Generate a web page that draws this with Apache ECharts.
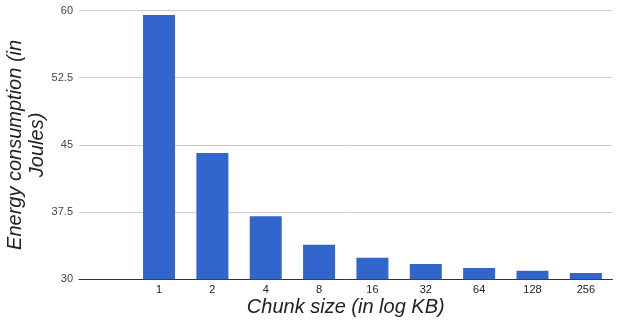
<!DOCTYPE html>
<html>
<head>
<meta charset="utf-8">
<script src="https://cdn.jsdelivr.net/npm/echarts@6/dist/echarts.min.js"></script>
<style>html,body{margin:0;padding:0;background:#fff}#c{width:619px;height:320px}</style>
</head>
<body>
<div id="c"></div>
<script>
const categories = ['', '1', '2', '4', '8', '16', '32', '64', '128', '256'];
const energy = [null, 59.5, 44.1, 37.05, 33.85, 32.4, 31.7, 31.25, 30.95, 30.7];
const yMin = 30, yMax = 60, yStep = 7.5;

const chart = echarts.init(document.getElementById('c'), null, {renderer: 'canvas'});
chart.setOption({
  animation: false,
  backgroundColor: '#ffffff',
  grid: {left: 79, right: 6.5, top: 10.5, bottom: 40.7, containLabel: false, outerBoundsMode: 'none'},
  xAxis: {
    type: 'category',
    data: categories,
    boundaryGap: true,
    axisTick: {show: false},
    axisLine: {lineStyle: {color: '#333333', width: 1}},
    axisLabel: {color: '#222222', fontSize: 11, fontFamily: 'Liberation Sans, Arial', margin: 5},
    name: 'Chunk size (in log KB)',
    nameLocation: 'middle',
    nameGap: 18,
    nameMoveOverlap: false,
    nameTextStyle: {fontSize: 20, fontStyle: 'italic', color: '#222222', fontFamily: 'Liberation Sans, Arial'}
  },
  yAxis: {
    type: 'value',
    min: yMin, max: yMax, interval: yStep,
    axisLine: {show: false},
    axisTick: {show: false},
    axisLabel: {color: '#444444', fontSize: 11, fontFamily: 'Liberation Sans, Arial', margin: 6},
    splitLine: {lineStyle: {color: '#cccccc', width: 1}},
    name: 'Energy consumption (in\nJoules)',
    nameLocation: 'middle',
    nameRotate: 90,
    nameGap: 53,
    nameMoveOverlap: false,
    nameTextStyle: {fontSize: 20, fontStyle: 'italic', color: '#222222', fontFamily: 'Liberation Sans, Arial', lineHeight: 22, align: 'center', verticalAlign: 'middle'}
  },
  series: [{
    type: 'bar',
    data: energy,
    barWidth: '60%',
    itemStyle: {color: '#3366cc'}
  }]
});
</script>
</body>
</html>
